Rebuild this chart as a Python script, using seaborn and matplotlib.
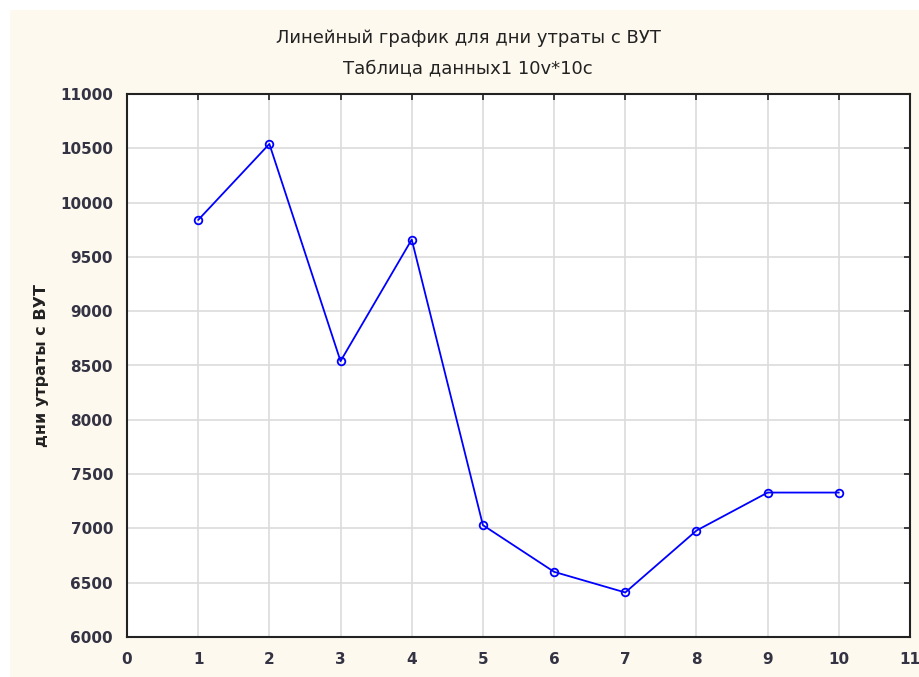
import matplotlib
matplotlib.use("Agg")
import matplotlib.pyplot as plt
from matplotlib.patches import Rectangle
import seaborn as sns
import pandas as pd

# values
obs = [1, 2, 3, 4, 5, 6, 7, 8, 9, 10]
days = [9840, 10540, 8540, 9660, 7030, 6600, 6410, 6980, 7330, 7330]
title1 = "Линейный график для дни утраты с ВУТ"
title2 = "Таблица данных1 10v*10c"
ylabel = "дни утраты с ВУТ"

sns.set_style("whitegrid")
plt.rcParams['font.family'] = ['DejaVu Sans']

cream = "#fef9ee"
df = pd.DataFrame({"obs": obs, "days": days})

fig = plt.figure(figsize=(9.2, 6.77), dpi=100, facecolor="white")
fig.patches.append(Rectangle((10 / 920, 0), 1, 1 - 10 / 677, transform=fig.transFigure,
                             facecolor=cream, edgecolor="none", zorder=-10))
ax = fig.add_axes([127 / 920, 40 / 677, 783 / 920, 543 / 677])
ax.set_facecolor("white")

sns.lineplot(data=df, x="obs", y="days", ax=ax, color="#0000ff", linewidth=1.3,
             marker="o", markersize=5.5, markerfacecolor="none",
             markeredgecolor="#0000ff", markeredgewidth=1.3)

ax.set_xlim(0, 11)
ax.set_ylim(6000, 11000)
ax.set_xticks(range(0, 12))
ax.set_yticks(range(6000, 11001, 500))
ax.grid(True, color="#dcdcdc", linewidth=1.2)
for s in ax.spines.values():
    s.set_color("#222222")
    s.set_linewidth(1.5)
ax.tick_params(direction="in", length=4, width=1.2, color="#222222",
               top=True, right=True, labelsize=11, pad=10)
ax.tick_params(axis="x", pad=11)
for lab in ax.get_xticklabels() + ax.get_yticklabels():
    lab.set_fontweight("bold")
    lab.set_color("#333344")
ax.set_xlabel("")
ax.set_ylabel(ylabel, fontsize=11.5, fontweight="semibold", labelpad=8, color="#222222")

fig.text(468 / 920, 1 - 38 / 677, title1, ha="center", va="center", fontsize=13, color="#222222")
fig.text(468 / 920, 1 - 68 / 677, title2, ha="center", va="center", fontsize=13, color="#222222")

fig.savefig("out.png", dpi=100, facecolor=fig.get_facecolor())
